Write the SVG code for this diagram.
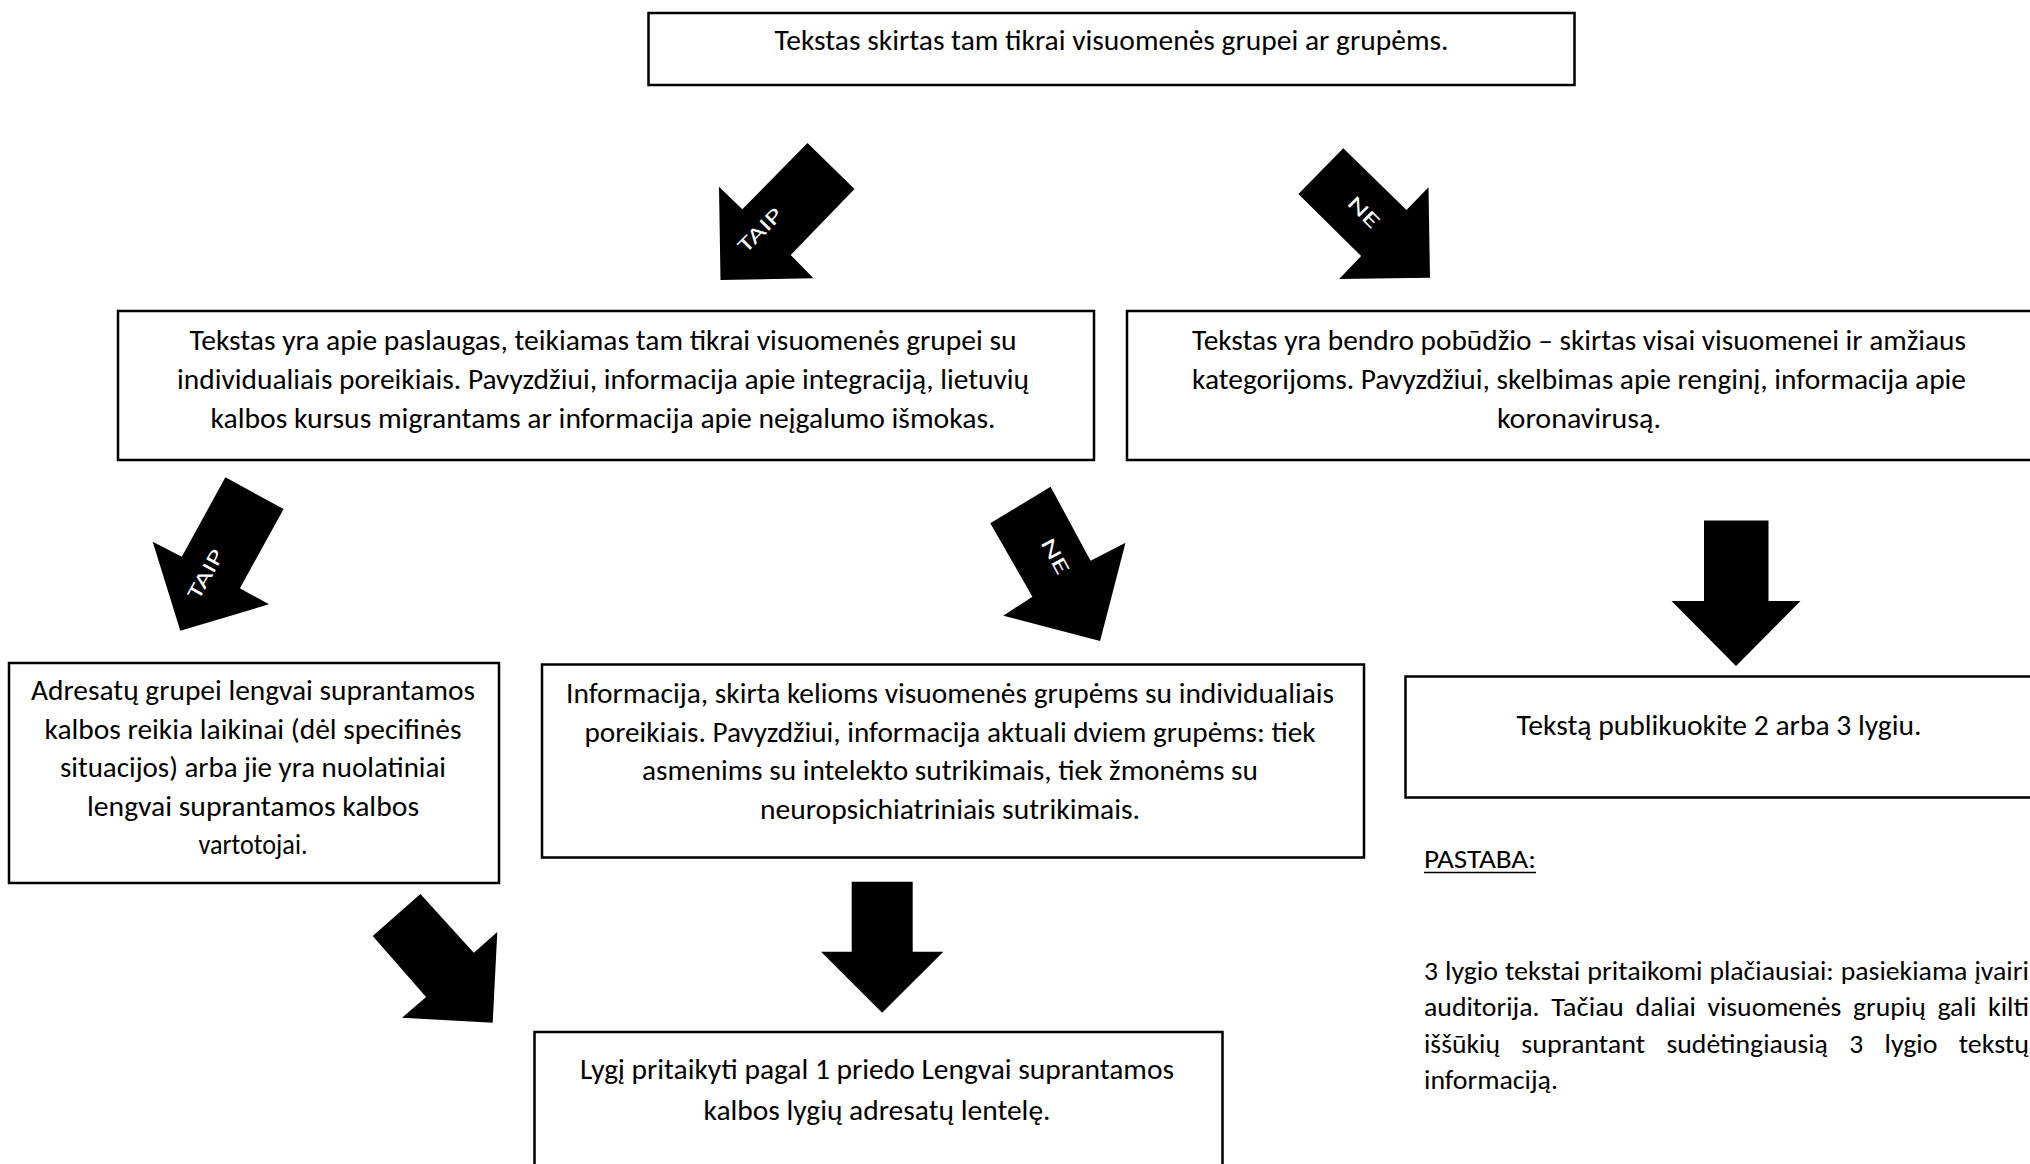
<svg xmlns="http://www.w3.org/2000/svg" width="2030" height="1164" viewBox="0 0 2030 1164">
<style>
.box{fill:#fff;stroke:#000;stroke-width:2.5}
.t{font-family:Carlito,Lato,"Liberation Sans",sans-serif;font-size:27.6px;fill:#000;text-anchor:middle}
.p{font-family:Carlito,Lato,"Liberation Sans",sans-serif;font-size:26.3px;fill:#000}
.arr{fill:#000;stroke:none}
.lbl{font-family:Carlito,Lato,"Liberation Sans",sans-serif;font-size:21px;fill:#fff;text-anchor:middle;dominant-baseline:central}
</style>
<rect width="2030" height="1164" fill="#fff"/>
<g id="connectors">
  <g id="arrow-taip-1">
    <polygon class="arr" points="807.5,143 854.5,189 790.7,255 813.5,278.3 720.5,280 719,186.7 742.3,209.3"/>
    <text class="lbl" transform="translate(760,230) rotate(-45)" textLength="54" lengthAdjust="spacingAndGlyphs">TAIP</text>
  </g>
  <g id="arrow-ne-1">
    <polygon class="arr" points="1343.3,148.3 1406.5,210 1428.5,187.3 1430,277.7 1339.2,279 1361.1,256 1298.4,194"/>
    <text class="lbl" transform="translate(1364,212) rotate(45)" textLength="36" lengthAdjust="spacingAndGlyphs">NE</text>
  </g>
  <g id="arrow-taip-2">
    <polygon class="arr" points="225.4,477.3 283.6,509 239.9,588.3 269,604.3 180.3,630.7 152.7,541.7 181.8,556.7"/>
    <text class="lbl" transform="translate(205.5,574) rotate(-61)" textLength="54" lengthAdjust="spacingAndGlyphs">TAIP</text>
  </g>
  <g id="arrow-ne-2">
    <polygon class="arr" points="1050.6,486.7 1090.6,560.7 1125.5,542.7 1100.1,641 1003.3,615.7 1032.4,596.7 990.3,523.3"/>
    <text class="lbl" transform="translate(1055.5,556) rotate(61.5)" textLength="38" lengthAdjust="spacingAndGlyphs">NE</text>
  </g>
  <polygon id="arrow-right-down" class="arr" points="1704,520.5 1768.5,520.5 1768.5,601 1800.5,601 1736,666 1671.5,601 1704,601"/>
  <polygon id="arrow-diag" class="arr" points="420.4,894 473.8,952.7 497.3,932 492.7,1022.7 402,1017.7 426.1,997 372.7,936"/>
  <polygon id="arrow-center-down" class="arr" points="851.7,881.7 912.7,881.7 912.7,951.7 943.3,951.7 882.2,1012.7 821,951.7 851.7,951.7"/>
</g>
<g id="node-top">
  <rect class="box" x="648.5" y="13" width="926" height="72"/>
  <text class="t" x="1111.5" y="50" textLength="674" lengthAdjust="spacingAndGlyphs">Tekstas skirtas tam tikrai visuomenės grupei ar grupėms.</text>
</g>
<g id="node-services">
  <rect class="box" x="118" y="311" width="976" height="149"/>
  <text class="t" x="603" y="349.5" textLength="827" lengthAdjust="spacingAndGlyphs">Tekstas yra apie paslaugas, teikiamas tam tikrai visuomenės grupei su</text>
  <text class="t" x="603" y="388.5" textLength="852" lengthAdjust="spacingAndGlyphs">individualiais poreikiais. Pavyzdžiui, informacija apie integraciją, lietuvių</text>
  <text class="t" x="603" y="427.5" textLength="785" lengthAdjust="spacingAndGlyphs">kalbos kursus migrantams ar informacija apie neįgalumo išmokas.</text>
</g>
<g id="node-general">
  <rect class="box" x="1127" y="311" width="920" height="149"/>
  <text class="t" x="1579" y="349.5" textLength="774" lengthAdjust="spacingAndGlyphs">Tekstas yra bendro pobūdžio – skirtas visai visuomenei ir amžiaus</text>
  <text class="t" x="1579" y="388.5" textLength="774" lengthAdjust="spacingAndGlyphs">kategorijoms. Pavyzdžiui, skelbimas apie renginį, informacija apie</text>
  <text class="t" x="1579" y="427.5" textLength="164" lengthAdjust="spacingAndGlyphs">koronavirusą.</text>
</g>
<g id="node-addressees">
  <rect class="box" x="9" y="663" width="490" height="220"/>
  <text class="t" x="253" y="700" textLength="444" lengthAdjust="spacingAndGlyphs">Adresatų grupei lengvai suprantamos</text>
  <text class="t" x="253" y="738.6" textLength="417" lengthAdjust="spacingAndGlyphs">kalbos reikia laikinai (dėl specifinės</text>
  <text class="t" x="253" y="777.2" textLength="386" lengthAdjust="spacingAndGlyphs">situacijos) arba jie yra nuolatiniai</text>
  <text class="t" x="253" y="815.8" textLength="332" lengthAdjust="spacingAndGlyphs">lengvai suprantamos kalbos</text>
  <text class="t" x="253" y="854.4" textLength="109" lengthAdjust="spacingAndGlyphs">vartotojai.</text>
</g>
<g id="node-several-groups">
  <rect class="box" x="542" y="664.5" width="822" height="193"/>
  <text class="t" x="950" y="703" textLength="768" lengthAdjust="spacingAndGlyphs">Informacija, skirta kelioms visuomenės grupėms su individualiais</text>
  <text class="t" x="950" y="741.6" textLength="731" lengthAdjust="spacingAndGlyphs">poreikiais. Pavyzdžiui, informacija aktuali dviem grupėms: tiek</text>
  <text class="t" x="950" y="780.2" textLength="616" lengthAdjust="spacingAndGlyphs">asmenims su intelekto sutrikimais, tiek žmonėms su</text>
  <text class="t" x="950" y="818.8" textLength="380" lengthAdjust="spacingAndGlyphs">neuropsichiatriniais sutrikimais.</text>
</g>
<g id="node-publish">
  <rect class="box" x="1405.5" y="676.5" width="640" height="121"/>
  <text class="t" x="1719" y="735" textLength="405" lengthAdjust="spacingAndGlyphs">Tekstą publikuokite 2 arba 3 lygiu.</text>
</g>
<g id="node-level">
  <rect class="box" x="534.5" y="1032" width="688" height="150"/>
  <text class="t" x="877" y="1079" textLength="594" lengthAdjust="spacingAndGlyphs">Lygį pritaikyti pagal 1 priedo Lengvai suprantamos</text>
  <text class="t" x="877" y="1119.5" textLength="347" lengthAdjust="spacingAndGlyphs">kalbos lygių adresatų lentelę.</text>
</g>
<g id="note">
  <text class="p" x="1424" y="867.5" textLength="112" lengthAdjust="spacingAndGlyphs">PASTABA:</text>
  <line x1="1424" y1="872.5" x2="1536" y2="872.5" stroke="#000" stroke-width="1.5"/>
  <text class="p" y="980"><tspan x="1424" textLength="14" lengthAdjust="spacingAndGlyphs">3</tspan><tspan x="1445" textLength="53" lengthAdjust="spacingAndGlyphs">lygio</tspan><tspan x="1504.9" textLength="75.4" lengthAdjust="spacingAndGlyphs">tekstai</tspan><tspan x="1587.3" textLength="115.2" lengthAdjust="spacingAndGlyphs">pritaikomi</tspan><tspan x="1709.4" textLength="124.3" lengthAdjust="spacingAndGlyphs">plačiausiai:</tspan><tspan x="1840.7" textLength="126.7" lengthAdjust="spacingAndGlyphs">pasiekiama</tspan><tspan x="1974.4" textLength="54.5" lengthAdjust="spacingAndGlyphs">įvairi</tspan></text>
  <text class="p" y="1016.3"><tspan x="1424" textLength="115.5" lengthAdjust="spacingAndGlyphs">auditorija.</tspan><tspan x="1551.2" textLength="72.7" lengthAdjust="spacingAndGlyphs">Tačiau</tspan><tspan x="1635.6" textLength="60.2" lengthAdjust="spacingAndGlyphs">daliai</tspan><tspan x="1707.4" textLength="133.9" lengthAdjust="spacingAndGlyphs">visuomenės</tspan><tspan x="1853" textLength="72.7" lengthAdjust="spacingAndGlyphs">grupių</tspan><tspan x="1937.4" textLength="39" lengthAdjust="spacingAndGlyphs">gali</tspan><tspan x="1988" textLength="41" lengthAdjust="spacingAndGlyphs">kilti</tspan></text>
  <text class="p" y="1052.6"><tspan x="1424" textLength="76" lengthAdjust="spacingAndGlyphs">iššūkių</tspan><tspan x="1521.3" textLength="123.8" lengthAdjust="spacingAndGlyphs">suprantant</tspan><tspan x="1666.4" textLength="161.5" lengthAdjust="spacingAndGlyphs">sudėtingiausią</tspan><tspan x="1849.2" textLength="14" lengthAdjust="spacingAndGlyphs">3</tspan><tspan x="1884.5" textLength="52.9" lengthAdjust="spacingAndGlyphs">lygio</tspan><tspan x="1958.7" textLength="70.3" lengthAdjust="spacingAndGlyphs">tekstų</tspan></text>
  <text class="p" x="1424" y="1089" textLength="134" lengthAdjust="spacingAndGlyphs">informaciją.</text>
</g>
</svg>
